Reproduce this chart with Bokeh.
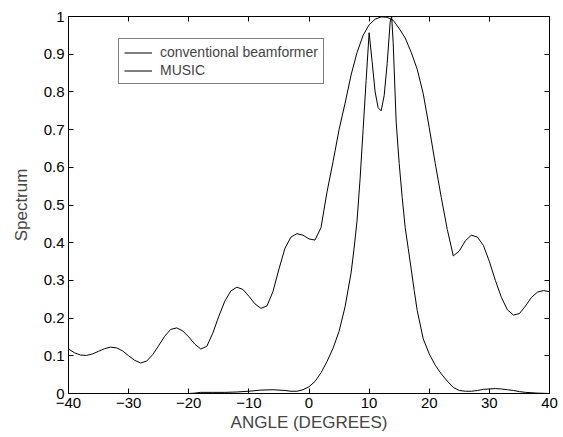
from bokeh.plotting import figure
from bokeh.models import (Range1d, FixedTicker, LinearAxis, Legend, LegendItem,
                          CustomLabelingPolicy)
from bokeh.embed import file_html
from bokeh.resources import INLINE

# ---- data ----
conv_angle = list(range(-40, 41))
conv_spec = [0.118, 0.108, 0.102, 0.101, 0.105, 0.112, 0.119, 0.123, 0.121, 0.113,
             0.100, 0.088, 0.081, 0.086, 0.103, 0.127, 0.152, 0.170, 0.174, 0.166,
             0.150, 0.131, 0.118, 0.125, 0.160, 0.205, 0.245, 0.272, 0.282, 0.276,
             0.258, 0.238, 0.226, 0.232, 0.270, 0.330, 0.385, 0.415, 0.424, 0.420,
             0.410, 0.407, 0.440, 0.535, 0.615, 0.700, 0.770, 0.845, 0.905, 0.950,
             0.978, 0.993, 0.999, 0.998, 0.990, 0.968, 0.943, 0.905, 0.860, 0.795,
             0.705, 0.610, 0.520, 0.435, 0.365, 0.378, 0.405, 0.420, 0.415, 0.393,
             0.350, 0.300, 0.255, 0.222, 0.208, 0.212, 0.232, 0.255, 0.269, 0.273,
             0.270]

music_angle = [-40, -35, -30, -25, -20, -19, -18, -16, -14, -12, -10, -8, -6, -4, -3,
               -2, -1, 0, 1, 2, 3, 4, 5, 6, 7, 7.5, 8, 8.5, 9, 9.5, 10, 10.5, 11,
               11.5, 12, 12.5, 13, 13.5, 13.75, 14, 14.5, 15, 15.5, 16, 16.5, 17,
               17.5, 18, 19, 20, 21, 22, 23, 24, 25, 26, 27, 28, 29, 30, 31, 32, 33,
               34, 35, 36, 38, 40]
music_spec = [0, 0, 0, 0, 0, 0.001, 0.003, 0.003, 0.003, 0.004, 0.006, 0.009, 0.010,
              0.008, 0.006, 0.006, 0.010, 0.018, 0.032, 0.055, 0.085, 0.120, 0.165,
              0.230, 0.320, 0.385, 0.460, 0.570, 0.700, 0.830, 0.957, 0.880, 0.800,
              0.758, 0.750, 0.790, 0.875, 0.985, 1.000, 0.930, 0.720, 0.610, 0.520,
              0.440, 0.385, 0.330, 0.273, 0.220, 0.145, 0.105, 0.075, 0.052, 0.033,
              0.016, 0.008, 0.006, 0.006, 0.008, 0.011, 0.012, 0.013, 0.012, 0.010,
              0.008, 0.005, 0.003, 0.001, 0.0]

x_ticks = [-40, -30, -20, -10, 0, 10, 20, 30, 40]
y_ticks = [0, 0.1, 0.2, 0.3, 0.4, 0.5, 0.6, 0.7, 0.8, 0.9, 1]
y_tick_labels = ["0", "0.1", "0.2", "0.3", "0.4", "0.5", "0.6", "0.7", "0.8", "0.9", "1"]

series_names = ["conventional beamformer", "MUSIC"]
x_label = "ANGLE (DEGREES)"
y_label = "Spectrum"

FONT = "Liberation Sans"

p = figure(width=560, height=437, output_backend="svg", toolbar_location=None,
           x_range=Range1d(-40, 40), y_range=Range1d(0, 1),
           min_border_left=68, min_border_right=11, min_border_top=16, min_border_bottom=44)
p.background_fill_color = "white"
p.border_fill_color = "white"
p.outline_line_color = "black"
p.outline_line_width = 1
p.xgrid.visible = False
p.ygrid.visible = False

r1 = p.line(conv_angle, conv_spec, line_color="black", line_width=1)
r2 = p.line(music_angle, music_spec, line_color="black", line_width=1)

hide_all = CustomLabelingPolicy(code="""
    for (const i of Array.from(indices)) { indices.unset(i) }
    return indices
""")

def style(ax, ticks, show_labels):
    ax.ticker = FixedTicker(ticks=ticks)
    ax.major_tick_in = 5
    ax.major_tick_out = 0
    ax.minor_tick_line_color = None
    ax.axis_line_color = "black"
    ax.major_tick_line_color = "black"
    ax.major_label_text_font = FONT
    ax.major_label_text_color = "black"
    if show_labels:
        ax.major_label_text_font_size = "15px"
        ax.major_label_standoff = 4
    else:
        ax.major_label_text_font_size = "0px"
        ax.major_label_standoff = 0
        ax.major_label_policy = hide_all

xa = p.xaxis[0]
style(xa, x_ticks, True)
xa.axis_label = x_label
xa.axis_label_text_font = FONT
xa.axis_label_text_font_size = "17px"
xa.axis_label_text_font_style = "normal"
xa.axis_label_standoff = 2

ya = p.yaxis[0]
style(ya, y_ticks, True)
ya.major_label_overrides = {t: s for t, s in zip(y_ticks, y_tick_labels)}
ya.axis_label = y_label
ya.axis_label_text_font = FONT
ya.axis_label_text_font_size = "17px"
ya.axis_label_text_font_style = "normal"
ya.axis_label_standoff = 10

top_ax = LinearAxis()
style(top_ax, x_ticks, False)
p.add_layout(top_ax, "above")
right_ax = LinearAxis()
style(right_ax, y_ticks, False)
p.add_layout(right_ax, "right")

legend = Legend(items=[LegendItem(label=series_names[0], renderers=[r1]),
                       LegendItem(label=series_names[1], renderers=[r2])],
                location=(50, 309))
legend.label_text_font = FONT
legend.label_text_font_size = "14px"
legend.label_height = 15
legend.glyph_height = 15
legend.glyph_width = 28
legend.label_standoff = 8
legend.padding = 5
legend.spacing = 2
legend.margin = 0
legend.border_line_color = "black"
legend.border_line_width = 1
legend.background_fill_alpha = 1
p.add_layout(legend, "center")

open("out.html", "w").write(file_html(p, INLINE))
